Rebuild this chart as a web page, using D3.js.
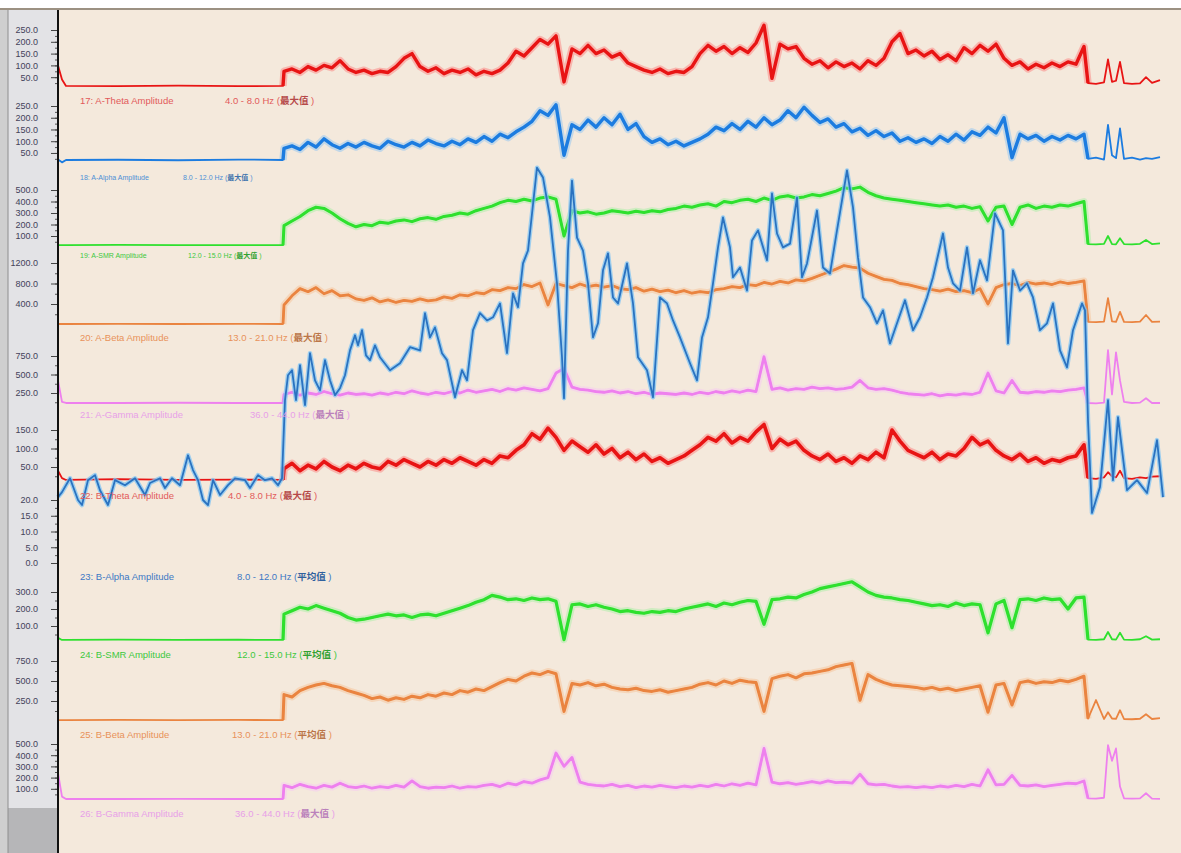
<!DOCTYPE html>
<html>
<head>
<meta charset="utf-8">
<script src="https://cdnjs.cloudflare.com/ajax/libs/d3/7.8.5/d3.min.js"></script>
<style>
body{margin:0;background:#fff;overflow:hidden}
text{font-family:"Liberation Sans",Arial,sans-serif}
</style>
</head>
<body>
<div id="chart1"></div>
<script>
var w = 1181
var h = 853

// sample grid in seconds: flat lead-in, 8 s steps while recording, tail after the drop
var headTimes = [0, 4, 8, 60, 120, 180, 225]
var bodyStart = 226
var bodyStep = 8
var bodyCount = 101
var tailTimes = [1030, 1038, 1046, 1050, 1054, 1058, 1062, 1066, 1074, 1082, 1088, 1094, 1102]
var duration = 1107

var aTheta = [
 100, 40, 13, 12, 14, 12, 13,
 75, 85, 70, 95, 80, 100, 90, 120, 85, 70,
 80, 65, 75, 70, 95, 130, 150, 95, 75, 90,
 65, 80, 70, 85, 60, 75, 65, 80, 110, 160,
 140, 175, 210, 190, 225, 30, 170, 150, 185, 150,
 165, 135, 150, 110, 95, 80, 70, 85, 65, 75,
 70, 95, 150, 185, 160, 180, 150, 175, 155, 195,
 270, 45, 190, 170, 180, 130, 105, 120, 90, 115,
 95, 110, 85, 120, 100, 130, 200, 235, 150, 165,
 140, 160, 125, 145, 120, 175, 150, 185, 160, 190,
 130, 100, 115, 85, 105, 90, 110, 95, 115, 105,
 180,
 25, 22, 28, 125, 30, 35, 115, 25, 22, 24, 50, 26, 38]

var aAlpha = [
 22, 10, 20, 21, 19, 22, 20,
 70, 80, 65, 95, 75, 110, 85, 70, 90, 75,
 95, 80, 70, 100, 85, 75, 95, 80, 105, 90,
 80, 100, 85, 110, 95, 120, 100, 130, 115, 140,
 160, 185, 230, 210, 255, 40, 170, 150, 190, 160,
 200, 170, 215, 150, 175, 120, 95, 110, 85, 100,
 80, 95, 110, 130, 160, 145, 175, 150, 185, 160,
 200, 170, 190, 230, 200, 245, 210, 180, 195, 160,
 175, 140, 155, 125, 145, 120, 135, 100, 115, 95,
 110, 90, 120, 100, 130, 105, 140, 125, 160, 135,
 200, 30, 130, 110, 125, 100, 120, 105, 125, 110,
 130,
 25, 30, 22, 170, 40, 28, 155, 25, 30, 22, 28, 25, 32]

var aSmr = [
 20, 20, 20, 22, 20, 21, 20,
 190, 230, 270, 320, 350, 340, 300, 250, 210, 180,
 200, 190, 220, 210, 230, 240, 225, 250, 260, 245,
 270, 280, 300, 290, 320, 340, 360, 390, 410, 400,
 420, 405, 430, 440, 420, 100, 320, 300, 310, 290,
 300, 320, 310, 300, 315, 305, 320, 310, 330, 340,
 360, 350, 370, 380, 360, 400, 390, 410, 420, 400,
 430, 410, 440, 450, 430, 440, 460, 450, 470, 490,
 520, 510, 525, 480, 450, 430, 420, 410, 400, 390,
 380, 370, 360, 370, 350, 360, 340, 355, 230, 350,
 360, 200, 350, 370, 340, 360, 350, 370, 360, 380,
 400,
 30, 28, 32, 100, 30, 28, 80, 30, 28, 32, 65, 30, 35]

var aBeta = [
 10, 10, 10, 12, 10, 11, 10,
 380, 560, 700, 640, 720, 600, 660, 560, 580, 500,
 470, 520, 440, 480, 430, 470, 450, 500, 460, 480,
 540, 510, 580, 560, 620, 600, 680, 660, 720, 700,
 780, 740, 810, 380, 800, 760, 720, 790, 740, 770,
 730, 760, 700, 680, 720, 650, 690, 640, 670, 620,
 660, 610, 640, 620, 680, 700, 740, 720, 780, 760,
 820, 790, 840, 810, 870, 850, 900, 960, 1020, 1080,
 1150, 1120, 1100, 1000, 940, 880, 860, 800, 780, 740,
 700, 680, 650, 690, 640, 660, 620, 700, 400, 720,
 780, 800, 760, 820, 790, 810, 780, 830, 800, 820,
 850,
 50, 45, 55, 515, 60, 50, 245, 50, 48, 55, 185, 50, 55]

var aGamma = [
 420, 130, 115, 115, 118, 115, 115,
 230, 260, 220, 250, 230, 270, 240, 220, 250, 230,
 240, 220, 250, 230, 260, 240, 280, 250, 230, 260,
 240, 270, 250, 290, 260, 280, 300, 270, 310, 290,
 320, 300, 280, 310, 520, 580, 330, 300, 290, 270,
 260, 280, 250, 270, 240, 260, 230, 250, 240, 230,
 250, 230, 260, 240, 270, 250, 280, 260, 290, 270,
 740, 300, 320, 290, 310, 300, 330, 310, 320, 300,
 310, 330, 420, 320, 300, 310, 290, 260, 240, 230,
 220, 240, 210, 230, 220, 240, 230, 260, 520, 280,
 250, 420, 260, 250, 270, 260, 280, 270, 290, 300,
 320,
 115, 110, 120, 830, 230, 800, 420, 130, 115, 120, 180, 115, 115]

var bTheta = [
 40, 20, 15, 17, 15, 16, 15,
 45, 60, 40, 55, 45, 65, 50, 40, 55, 45,
 60, 50, 45, 65, 55, 70, 60, 50, 65, 55,
 70, 60, 75, 65, 55, 70, 60, 80, 75, 95,
 110, 140, 125, 155, 130, 95, 120, 105, 90, 110,
 85, 100, 75, 90, 70, 85, 65, 75, 60, 70,
 80, 95, 110, 130, 120, 140, 115, 130, 120, 145,
 165, 100, 125, 110, 120, 95, 80, 70, 85, 65,
 75, 60, 80, 70, 90, 75, 150, 120, 95, 85,
 75, 90, 70, 85, 80, 100, 130, 110, 120, 95,
 80, 70, 85, 65, 75, 60, 70, 65, 75, 80,
 110,
 20, 18, 22, 36, 25, 22, 40, 20, 18, 22, 20, 24, 25]

var bSmr = [
 30, 18, 18, 20, 18, 19, 18,
 170, 190, 210, 200, 220, 205, 190, 175, 150, 135,
 140, 150, 160, 170, 160, 165, 150, 165, 170, 160,
 175, 190, 205, 220, 240, 255, 280, 270, 255, 260,
 250, 265, 255, 260, 245, 20, 225, 230, 215, 225,
 210, 200, 185, 190, 180, 175, 185, 180, 190, 185,
 200, 210, 220, 230, 215, 235, 225, 240, 250, 245,
 110, 255, 260, 270, 265, 285, 300, 320, 330, 340,
 350, 360, 330, 300, 280, 270, 265, 255, 250, 240,
 230, 220, 225, 215, 235, 220, 230, 225, 60, 230,
 250, 90, 255, 260, 250, 265, 255, 260, 200, 265,
 270,
 20, 18, 22, 65, 22, 20, 60, 20, 18, 22, 40, 20, 22]

var bBeta = [
 12, 12, 12, 14, 12, 13, 12,
 330, 300, 380, 420, 450, 470, 440, 420, 380, 350,
 320, 280, 300, 260, 290, 270, 310, 290, 330, 310,
 350, 330, 380, 360, 400, 380, 430, 480, 520, 500,
 560, 600, 580, 620, 590, 120, 470, 450, 480, 440,
 460, 420, 400, 390, 410, 380, 370, 390, 360, 380,
 400, 420, 460, 480, 450, 500, 470, 510, 490, 480,
 120, 530, 560, 580, 540, 590, 600, 620, 640, 680,
 700, 720, 260, 580, 520, 480, 450, 440, 430, 420,
 400, 420, 390, 410, 380, 400, 420, 440, 110, 450,
 470, 200, 480, 500, 470, 490, 480, 510, 490, 520,
 560,
 30, 262, 25, 110, 30, 28, 135, 25, 22, 28, 85, 25, 35]

var bGamma = [
 240, 30, 9, 9, 10, 9, 9,
 130, 110, 140, 120, 105, 130, 115, 150, 120, 110,
 125, 105, 120, 110, 130, 115, 170, 120, 105, 115,
 110, 125, 105, 120, 115, 130, 140, 120, 150, 135,
 165, 150, 180, 200, 420, 300, 380, 160, 140, 130,
 125, 140, 120, 130, 110, 125, 115, 130, 120, 110,
 125, 115, 130, 120, 140, 125, 145, 130, 150, 135,
 460, 160, 145, 155, 140, 150, 165, 150, 170, 155,
 160, 150, 230, 145, 135, 140, 125, 115, 120, 110,
 120, 110, 125, 115, 130, 120, 140, 125, 270, 135,
 140, 220, 130, 125, 135, 120, 130, 140, 150, 145,
 170,
 15, 12, 20, 490, 350, 460, 120, 15, 12, 14, 60, 12, 10]

// 23: B-Alpha, sampled on its own (irregular) times
var alphaT = [0,4,12,20,24,30,37,42,50,57,67,77,87,92,102,107,114,122,130,135,
 140,145,150,155,162,170,177,187,192,200,207,214,220,224,
 227,230,234,238,242,247,252,257,262,267,272,277,282,287,292,297,300,304,308,312,
 317,322,332,342,352,362,367,372,377,384,389,397,404,409,415,422,429,435,442,449,
 455,460,465,470,479,485,492,499,504,506,510,514,519,525,530,535,540,545,550,555,
 560,569,575,580,589,595,602,609,615,622,632,639,644,650,655,660,665,672,675,682,
 689,694,700,709,714,719,725,732,739,744,749,759,765,772,779,789,795,800,805,812,
 819,825,832,839,847,855,862,869,875,885,890,895,902,909,915,922,929,937,945,950,
 955,962,969,975,982,989,995,1002,1009,1015,1024,1027,1030,1034,1042,1050,1055,1060,1069,1079,
 1089,1099,1105]
var alphaV = [20.9,22.5,26.9,20.0,18.4,26.3,27.9,23.1,18.4,26.3,24.7,26.9,21.6,25.4,26.9,23.8,26.9,24.7,34.2,29.5,
 26.3,20.0,18.4,26.3,21.6,24.7,26.9,26.3,23.8,27.9,26.3,26.9,24.7,26.9,
 51.7,59.6,61.2,51.7,62.8,50.1,66.6,58.0,54.8,64.4,58.0,53.3,55.5,59.6,67.5,72.3,69.1,73.9,65.9,64.4,
 69.1,65.3,61.2,63.4,68.5,67.5,79.3,71.6,74.8,66.6,64.4,52.6,61.2,58.0,73.9,79.3,77.0,78.0,82.4,66.6,
 85.6,81.2,95.1,99.2,125.5,122.4,109.7,88.8,65.3,52.3,99.2,121.4,103.3,99.2,88.8,71.6,76.1,92.9,98.3,84.3,
 82.4,95.1,82.4,65.3,61.2,52.6,84.3,82.4,77.0,71.6,63.4,58.0,71.6,78.0,88.8,100.2,109.7,100.2,90.7,93.8,
 86.5,102.4,105.6,96.1,117.3,104.6,100.2,101.4,116.0,90.7,95.1,111.9,93.8,91.9,105.6,124.6,112.9,97.0,84.3,81.2,
 76.1,80.2,69.7,76.1,83.4,73.9,78.0,84.3,90.7,104.6,93.8,88.8,86.5,100.2,85.6,96.1,89.7,111.0,105.6,69.7,
 92.9,86.5,88.8,84.3,73.9,76.1,82.4,67.5,62.1,73.9,82.4,80.2,45.3,15.9,24.1,51.7,26.3,46.3,23.1,26.3,
 22.2,39.0,20.9]

var channelNames = ["17: A-Theta Amplitude","18: A-Alpha Amplitude","19: A-SMR Amplitude","20: A-Beta Amplitude",
 "21: A-Gamma Amplitude","22: B-Theta Amplitude","23: B-Alpha Amplitude","24: B-SMR Amplitude",
 "25: B-Beta Amplitude","26: B-Gamma Amplitude"]
var channelRanges = ["4.0 - 8.0 Hz","8.0 - 12.0 Hz","12.0 - 15.0 Hz","13.0 - 21.0 Hz","36.0 - 44.0 Hz",
 "4.0 - 8.0 Hz","8.0 - 12.0 Hz","12.0 - 15.0 Hz","13.0 - 21.0 Hz","36.0 - 44.0 Hz"]
var channelStats = ["最大值","最大值","最大值","最大值","最大值","最大值","平均值","平均值","平均值","最大值"]
var channelTicks = [[50,100,150,200,250],[50,100,150,200,250],[100,200,300,400,500],[400,800,1200],[250,500,750],
 [50,100,150],[0,5,10,15,20],[100,200,300],[250,500,750],[100,200,300,400,500]]
var channelMax = [250,250,500,1200,750,150,20,300,750,500]
var channelSeries = [aTheta,aAlpha,aSmr,aBeta,aGamma,bTheta,null,bSmr,bBeta,bGamma]

// layout only: pixel of zero, pixel of max, label line, label size, x of the Hz text, band width
var panels = [
 {y0:89, y1:30, ly:101, fs:9.5, rx:225, bw:3.4, c:"#e81414", halo:"#ff6a6a", lc:"#e25a5a"},
 {y0:164.7, y1:106, ly:178, fs:7, rx:183, bw:3.4, c:"#1c7ce0", halo:"#78bcf8", lc:"#4d8fd6"},
 {y0:247.5, y1:190, ly:256, fs:7, rx:188, bw:3, c:"#2ee02e", halo:"#98f098", lc:"#3cc83c"},
 {y0:324.5, y1:263, ly:338, fs:9.5, rx:228, bw:2.8, c:"#ea8440", halo:"#f8b888", lc:"#e8925a"},
 {y0:411.5, y1:356, ly:415, fs:9.5, rx:250, bw:2.8, c:"#ee80ee", halo:"#f8c0f8", lc:"#e8a0e8"},
 {y0:485.5, y1:430, ly:496, fs:9.5, rx:228, bw:3.6, c:"#e81414", halo:"#ff6a6a", lc:"#e25a5a"},
 {y0:563, y1:500, ly:577, fs:9.5, rx:237, bw:1.8, c:"#2a72c0", halo:"#80c4f4", lc:"#3b78c4"},
 {y0:643, y1:592, ly:655, fs:9.5, rx:237, bw:3.2, c:"#2ee02e", halo:"#98f098", lc:"#3cc83c"},
 {y0:721, y1:661, ly:735, fs:9.5, rx:232, bw:3, c:"#ea8440", halo:"#f8b888", lc:"#e8925a"},
 {y0:800, y1:744, ly:814, fs:9.5, rx:235, bw:2.8, c:"#ee80ee", halo:"#f8c0f8", lc:"#e8a0e8"}
]

var axisX = 58
var x = d3.scaleLinear().domain([0, duration]).range([axisX, 1165])

drawChart()

function sampleTimes(){
    var t = headTimes.slice()
    for(var k = 0; k<bodyCount; k++){
        t.push(bodyStart + k*bodyStep)
    }
    return t.concat(tailTimes)
}

function drawFrame(svg){
    svg.append("rect").attr("width", w).attr("height", h).attr("fill", "#f4e9dc")
    svg.append("rect").attr("width", w).attr("height", 8).attr("fill", "#ffffff")
    svg.append("line").attr("x1", 0).attr("x2", w).attr("y1", 9).attr("y2", 9)
        .attr("stroke", "#9c9182").attr("stroke-width", 2)
    svg.append("rect").attr("x", 0).attr("y", 10).attr("width", 8).attr("height", h-10).attr("fill", "#cfcfcf")
    svg.append("rect").attr("x", 8).attr("y", 10).attr("width", axisX-8).attr("height", h-10).attr("fill", "#e3e3e6")
    svg.append("rect").attr("x", 8).attr("y", 808).attr("width", axisX-9).attr("height", h-808).attr("fill", "#b6b6b8")
    svg.append("line").attr("x1", 8).attr("x2", 8).attr("y1", 10).attr("y2", h)
        .attr("stroke", "#8e8e8e").attr("stroke-width", 1)
}

function drawTrace(svg, pts, p){
    var line = d3.line()
    var first = headTimes.length-1
    var last = headTimes.length+bodyCount
    var body = pts.slice(first, last+1)
    svg.append("path").attr("d", line(body)).attr("fill", "none")
        .attr("stroke", p.halo).attr("stroke-width", p.bw+4).attr("stroke-opacity", 0.4)
        .attr("stroke-linejoin", "round")
    svg.append("path").attr("d", line(pts)).attr("fill", "none")
        .attr("stroke", p.c).attr("stroke-width", 1.8).attr("stroke-linejoin", "round")
    svg.append("path").attr("d", line(body)).attr("fill", "none")
        .attr("stroke", p.c).attr("stroke-width", p.bw).attr("stroke-linejoin", "round")
}

function drawChart(){
    var svg = d3.select("#chart1").append("svg").attr("width", w).attr("height", h)
    drawFrame(svg)

    var times = sampleTimes()
    var scales = panels.map(function(p, i){
        return d3.scaleLinear().domain([0, channelMax[i]]).range([p.y0, p.y1])
    })

    // ticks
    panels.forEach(function(p, i){
        var y = scales[i]
        var ticks = channelTicks[i]
        var half = (ticks[1]-ticks[0])/2
        var minor = []
        for(var v = ticks[0]-half; v<=channelMax[i]+0.01; v += half){
            if(v>=0 && (y(v) < p.y0 + 1)) minor.push(v)
        }
        svg.append("g").attr("transform", "translate("+axisX+",0)")
            .call(d3.axisLeft(y).tickValues(minor).tickSize(3).tickFormat(""))
            .call(function(g){ g.select(".domain").remove() })
            .selectAll("line").attr("stroke", "#555")
        var g = svg.append("g").attr("transform", "translate("+axisX+",0)")
            .call(d3.axisLeft(y).tickValues(ticks).tickSize(7).tickPadding(13).tickFormat(d3.format(".1f")))
        g.select(".domain").remove()
        g.selectAll("line").attr("stroke", "#444")
        g.selectAll("text").attr("font-size", 9).attr("fill", "#42425a")
            .attr("font-family", "\"Liberation Sans\",Arial,sans-serif")
    })

    // traces
    panels.forEach(function(p, i){
        var values = channelSeries[i]
        if(!values) return
        var y = scales[i]
        var pts = values.map(function(v, j){ return [x(times[j]), y(v)] })
        drawTrace(svg, pts, p)
    })

    // B-Alpha runs far outside its own band
    var line = d3.line()
    var pa = panels[6]
    var ya = scales[6]
    var apts = alphaT.map(function(t, j){ return [x(t), ya(alphaV[j])] })
    svg.append("path").attr("d", line(apts)).attr("fill", "none")
        .attr("stroke", pa.halo).attr("stroke-width", 4.5).attr("stroke-opacity", 0.75)
        .attr("stroke-linejoin", "round")
    svg.append("path").attr("d", line(apts)).attr("fill", "none")
        .attr("stroke", pa.c).attr("stroke-width", pa.bw).attr("stroke-linejoin", "round")

    // channel captions
    panels.forEach(function(p, i){
        svg.append("text").attr("x", 80).attr("y", p.ly).attr("dy", "0.35em")
            .attr("font-size", p.fs).attr("fill", p.lc).text(channelNames[i])
        var t = svg.append("text").attr("x", p.rx).attr("y", p.ly).attr("dy", "0.35em")
            .attr("font-size", p.fs).attr("fill", p.lc)
        t.append("tspan").text(channelRanges[i] + " (")
        t.append("tspan").attr("font-family", "\"Noto Sans CJK SC\",sans-serif")
            .attr("font-weight", "bold").attr("fill", d3.color(p.lc).darker(0.6)).text(channelStats[i])
        t.append("tspan").text(" )")
    })

    svg.append("line").attr("x1", axisX).attr("x2", axisX).attr("y1", 10).attr("y2", h)
        .attr("stroke", "#111").attr("stroke-width", 2)
}
</script>
</body>
</html>
